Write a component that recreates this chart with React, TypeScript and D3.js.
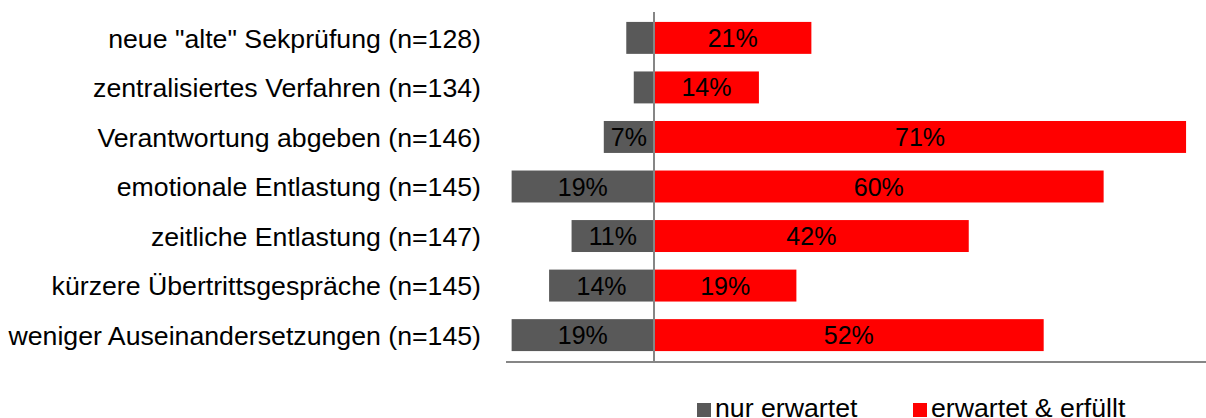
import React from "react";
import * as d3 from "d3";

const categories = [
  'neue "alte" Sekprüfung (n=128)',
  "zentralisiertes Verfahren (n=134)",
  "Verantwortung abgeben (n=146)",
  "emotionale Entlastung (n=145)",
  "zeitliche Entlastung (n=147)",
  "kürzere Übertrittsgespräche (n=145)",
  "weniger Auseinandersetzungen (n=145)",
];
const nurErwartet = [0.037, 0.027, 0.067, 0.19, 0.11, 0.14, 0.19];
const erwartetErfuellt = [0.21, 0.14, 0.71, 0.60, 0.42, 0.19, 0.52];
const seriesNames = ["nur erwartet", "erwartet & erfüllt"];
const colors = ["#595959", "#FF0000"];

const W = 1206;
const H = 418;
const FONT = "'Liberation Sans', Arial, sans-serif";

export default function App() {
  const x = d3.scaleLinear().domain([-0.1975, 0.7366]).range([506, 1206]);
  const y = d3.scaleBand<string>().domain(categories).range([13, 360]).paddingInner(0.355).paddingOuter(0.18);
  const bh = y.bandwidth();
  const fmt = d3.format(".0%");
  const x0 = x(0);
  return (
    <svg width={W} height={H} style={{ position: "absolute", left: 0, top: 0, display: "block" }} fontFamily={FONT}>
      <rect width={W} height={H} fill="#fff" />
      {categories.map((c, i) => {
        const yy = y(c)!;
        const g = nurErwartet[i];
        const r = erwartetErfuellt[i];
        return (
          <g key={c}>
            <rect x={x(-g)} y={yy} width={x0 - x(-g)} height={bh} fill={colors[0]} />
            <rect x={x0} y={yy} width={x(r) - x0} height={bh} fill={colors[1]} />
            {g >= 0.05 && (
              <text x={(x(-g) + x0) / 2} y={yy + bh / 2} dy="0.36em" textAnchor="middle" fontSize={25} fill="#000">
                {fmt(g)}
              </text>
            )}
            <text x={(x(r) + x0) / 2} y={yy + bh / 2} dy="0.36em" textAnchor="middle" fontSize={25} fill="#000">
              {fmt(r)}
            </text>
            <text x={481} y={yy + bh / 2} dy="0.36em" textAnchor="end" fontSize={26.7} fill="#000">
              {c}
            </text>
          </g>
        );
      })}
      <line x1={x0} x2={x0} y1={12} y2={362} stroke="#868686" strokeWidth={2} />
      <line x1={506} x2={W} y1={362} y2={362} stroke="#868686" strokeWidth={2} />
      <g>
        <rect x={697} y={403} width={14} height={14} fill={colors[0]} />
        <text x={715} y={416.5} fontSize={26.7} fill="#000">{seriesNames[0]}</text>
        <rect x={913} y={403} width={14} height={14} fill={colors[1]} />
        <text x={931} y={416.5} fontSize={26.7} fill="#000">{seriesNames[1]}</text>
      </g>
    </svg>
  );
}
